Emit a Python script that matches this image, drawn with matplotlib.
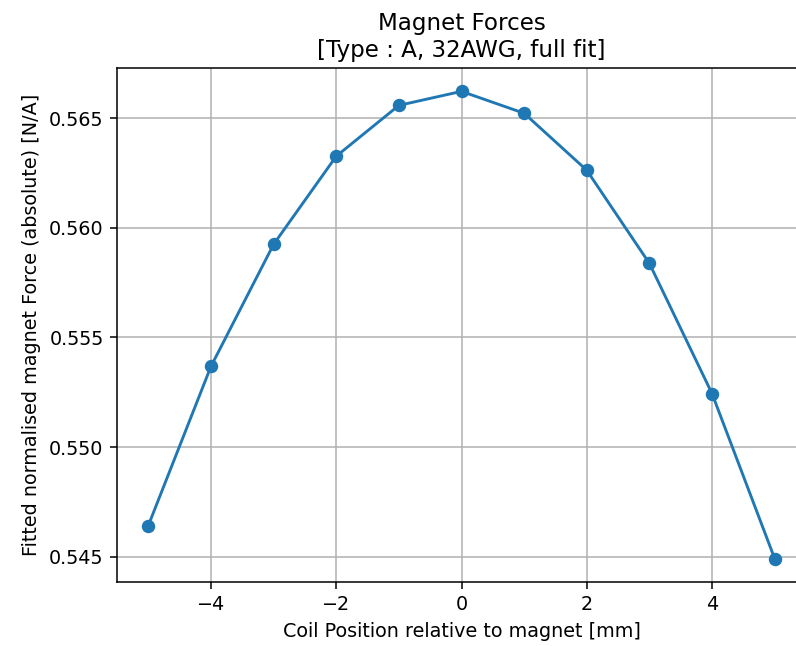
import matplotlib
matplotlib.use('Agg')
import matplotlib.pyplot as plt

# coil positions [mm] and fitted normalised forces [N/A]
positions = [-5, -4, -3, -2, -1, 0, 1, 2, 3, 4, 5]
forces = [0.54642, 0.55368, 0.55925, 0.56327, 0.56559, 0.56623,
          0.56523, 0.56263, 0.55838, 0.55244, 0.54491]

dpi = 138
fig = plt.figure(figsize=(796 / dpi, 646 / dpi), dpi=dpi)
# axes placed so the right spine falls just past the image edge, as in the reference
ax = fig.add_axes([117 / 796, 1 - 582 / 646, (806 - 117) / 796, (582 - 68) / 646])
ax.plot(positions, forces, marker='o', color='#1f77b4')
ax.grid(True)

ax.set_title("Magnet Forces\n[Type : A, 32AWG, full fit]")
ax.set_xlabel("Coil Position relative to magnet [mm]")
ax.set_ylabel("Fitted normalised magnet Force (absolute) [N/A]")

fig.savefig("out.png", dpi=dpi)
